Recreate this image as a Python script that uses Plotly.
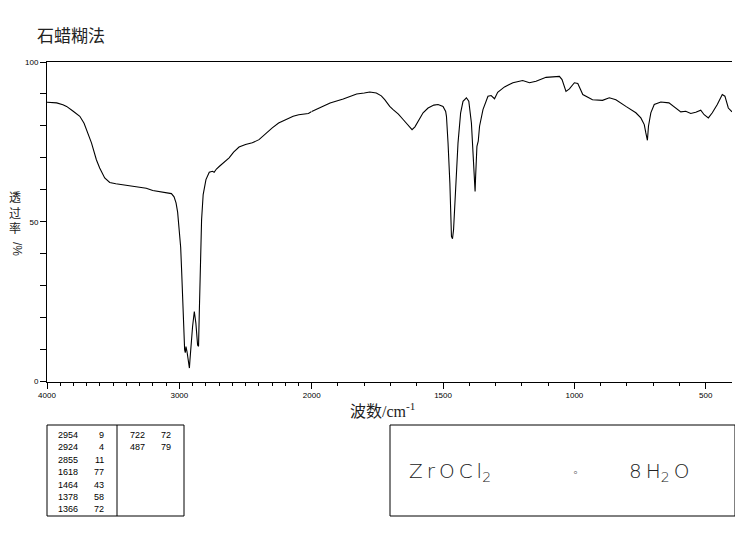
import plotly.graph_objects as go

# ---------------- data ----------------
wavenumber = [4000, 3950, 3927, 3880, 3852, 3802, 3752, 3720, 3702, 3664, 3627, 3602, 3564, 3526,
              3480, 3426, 3360, 3301, 3250, 3201, 3150, 3088, 3060, 3040, 3025, 3013, 3000, 2990,
              2983, 2975, 2967, 2960, 2955, 2950, 2942, 2930, 2924, 2920, 2912, 2900, 2887, 2875,
              2862, 2855, 2850, 2842, 2832, 2820, 2799, 2774, 2750, 2737, 2720, 2699, 2660, 2624,
              2590, 2549, 2500, 2449, 2398, 2350, 2298, 2250, 2188, 2140, 2098, 2050, 2025, 2000,
              1981, 1930, 1880, 1829, 1800, 1779, 1754, 1735, 1722, 1703, 1690, 1670, 1652, 1635,
              1618, 1607, 1590, 1576, 1557, 1535, 1519, 1500, 1490, 1487, 1481, 1474, 1468, 1464,
              1460, 1452, 1443, 1433, 1424, 1411, 1402, 1392, 1386, 1380, 1378, 1376, 1371, 1366,
              1361, 1348, 1329, 1317, 1304, 1292, 1266, 1234, 1197, 1171, 1146, 1108, 1083, 1057,
              1047, 1032, 1019, 1000, 987, 968, 931, 893, 867, 842, 804, 766, 747, 734, 728, 724,
              722, 718, 709, 696, 671, 640, 614, 595, 576, 557, 538, 519, 506, 490, 475, 456, 437,
              427, 414, 405, 400]
transmittance = [87.4, 87.3, 87.2, 86.6, 86.1, 84.6, 83.0, 80.8, 78.8, 74.7, 69.4, 66.8, 63.7, 62.3,
                 61.9, 61.6, 61.2, 60.9, 60.5, 59.8, 59.5, 59.2, 58.8, 57.8, 55.9, 53.0, 48.0, 42.0,
                 35.0, 24.6, 15.2, 9.9, 9.0, 10.9, 9.3, 4.6, 4.2, 6.7, 11.4, 17.2, 21.9, 18.2,
                 11.4, 11.0, 20.3, 35.0, 50.6, 58.5, 63.2, 65.5, 65.8, 65.5, 66.5, 67.3, 68.7, 70.0,
                 71.8, 73.4, 74.2, 74.7, 75.7, 77.5, 79.4, 80.9, 82.2, 83.0, 83.5, 83.7, 83.9, 84.5,
                 85.3, 87.2, 88.4, 90.0, 90.3, 90.6, 90.3, 89.4, 88.2, 86.1, 85.1, 83.7, 82.0, 80.5,
                 78.8, 79.7, 82.3, 84.1, 85.6, 86.5, 86.7, 86.1, 84.5, 83.0, 74.7, 62.1, 45.4, 44.7,
                 47.5, 59.0, 74.7, 84.1, 87.7, 88.8, 87.7, 80.9, 70.5, 60.0, 59.5, 64.2, 73.6, 75.2,
                 79.9, 85.1, 89.3, 89.5, 88.5, 90.5, 92.2, 93.5, 94.2, 93.5, 94.0, 95.2, 95.4, 95.5,
                 94.5, 90.8, 91.6, 93.5, 93.3, 89.8, 88.2, 88.0, 88.8, 88.2, 86.1, 84.1, 82.5, 80.4, 77.8, 75.7,
                 75.5, 79.9, 84.1, 86.7, 87.5, 87.2, 85.6, 84.4, 84.6, 83.9, 84.3, 84.9, 83.5, 82.5, 84.1, 86.7, 89.8,
                 89.3, 85.6, 84.6, 84.4]

peak_wn = [2954, 2924, 2855, 1618, 1464, 1378, 1366, 722, 487]
peak_t = [9, 4, 11, 77, 43, 58, 72, 72, 79]

x_labeled_hi = [4000, 3000, 2000]
x_half_hi = [3500, 2500]
x_labeled_lo = [1500, 1000, 500]
y_labeled = [0, 50, 100]
y_minor = [10, 20, 30, 40, 60, 70, 80, 90]

title_text = "石蜡糊法"
xlabel_text = "波数/cm<sup>-1</sup>"
ylabel_text = "透<br>过<br>率"
ylabel_unit = "/%"
TS = "\u2009"
formula_parts = [TS.join("ZrOCl") + "<sub>2</sub>", "∘", "8" + TS + "H<sub>2</sub>" + TS + "O"]

# ---------------- layout helpers ----------------
# the page body has an 8px margin, so the figure is placed at (8, 8) in the window
WIN_W, WIN_H, OFF = 743, 539, 8
W, H = WIN_W - OFF, WIN_H - 2 * OFF
def px(x):
    return (x - OFF) / W
def py(y):
    return 1 - (y - OFF) / H

L, SPLIT, R, T, B = 47, 311.7, 732, 62, 381.5
INK = "#000000"
CJK = "Noto Sans CJK SC"
TICKFONT = dict(family="Liberation Sans", size=8, color=INK)

hi_x = [w for w in wavenumber if w >= 2000]
hi_y = [t for w, t in zip(wavenumber, transmittance) if w >= 2000]
lo_x = [w for w in wavenumber if w <= 2000]
lo_y = [t for w, t in zip(wavenumber, transmittance) if w <= 2000]

fig = go.Figure()
fig.add_trace(go.Scatter(x=hi_x, y=hi_y, xaxis="x", yaxis="y", mode="lines",
                         line=dict(color=INK, width=1.1), showlegend=False, hoverinfo="skip"))
fig.add_trace(go.Scatter(x=lo_x, y=lo_y, xaxis="x2", yaxis="y", mode="lines",
                         line=dict(color=INK, width=1.1), showlegend=False, hoverinfo="skip"))

axis_common = dict(showgrid=False, zeroline=False, showline=True, linecolor=INK, linewidth=1,
                   ticks="outside", tickcolor=INK, tickwidth=1, tickfont=TICKFONT,
                   automargin=False)
minor_common = dict(ticks="outside", tickcolor=INK, tickwidth=1, showgrid=False)

fig.update_layout(
    template="none",
    width=W, height=H, autosize=False,
    margin=dict(l=0, r=0, t=0, b=0, pad=0),
    paper_bgcolor="white", plot_bgcolor="white",
    xaxis=dict(domain=[px(L), px(SPLIT)], range=[4000, 2000], anchor="y", mirror=True,
               tickmode="array", tickvals=x_labeled_hi, ticklen=6,
               minor=dict(tickmode="array", tickvals=list(range(2100, 4000, 100)), ticklen=3,
                          **minor_common),
               **axis_common),
    xaxis3=dict(domain=[px(L), px(SPLIT)], range=[4000, 2000], anchor="y", overlaying="x",
                showline=False, showgrid=False, zeroline=False, showticklabels=False,
                ticks="outside", tickcolor=INK, tickwidth=1, ticklen=6,
                tickmode="array", tickvals=x_half_hi, automargin=False),
    xaxis2=dict(domain=[px(SPLIT), px(R)], range=[2000, 400], anchor="y", mirror=True,
                tickmode="array", tickvals=x_labeled_lo, ticklen=6,
                minor=dict(tickmode="array", tickvals=list(range(500, 2000, 100)), ticklen=3,
                           **minor_common),
                **axis_common),
    yaxis=dict(domain=[py(B), py(T)], range=[0, 100], anchor="x",
               tickmode="array", tickvals=y_labeled, ticklen=6,
               minor=dict(tickmode="array", tickvals=y_minor, ticklen=6, **minor_common),
               **axis_common),
    yaxis2=dict(domain=[py(B), py(T)], range=[0, 100], anchor="x2", overlaying="y", side="right",
                showline=True, linecolor=INK, linewidth=1, showgrid=False, zeroline=False,
                ticks="", showticklabels=False, automargin=False),
)

ann = []
ann.append(dict(text=title_text, x=px(35), y=py(34), xref="paper", yref="paper",
                xanchor="left", yanchor="middle", showarrow=False,
                font=dict(family=CJK, size=17, color="#222222")))
ann.append(dict(text=xlabel_text, x=px(348), y=py(410), xref="paper", yref="paper",
                xanchor="left", yanchor="middle", showarrow=False,
                font=dict(family="Liberation Serif, " + CJK, size=16, color="#222222")))
ann.append(dict(text=ylabel_text, x=px(15), y=py(212), xref="paper", yref="paper",
                xanchor="center", yanchor="middle", showarrow=False,
                font=dict(family=CJK, size=12, color="#222222")))
ann.append(dict(text=ylabel_unit, x=px(17), y=py(249), xref="paper", yref="paper",
                xanchor="center", yanchor="middle", showarrow=False, textangle=90,
                font=dict(family="Liberation Sans", size=12, color="#222222")))

# peak table
shapes = []
TB_L, TB_R, TB_DIV, BOX_T, BOX_B = 47, 184, 117, 425, 516
shapes.append(dict(type="rect", xref="paper", yref="paper", x0=px(TB_L), x1=px(TB_R),
                   y0=py(BOX_B), y1=py(BOX_T), line=dict(color=INK, width=1)))
shapes.append(dict(type="line", xref="paper", yref="paper", x0=px(TB_DIV), x1=px(TB_DIV),
                   y0=py(BOX_B), y1=py(BOX_T), line=dict(color=INK, width=1)))
rows_per_col = 7
col_x = [(80, 106), (147, 173)]
for i, (w, t) in enumerate(zip(peak_wn, peak_t)):
    c, r = divmod(i, rows_per_col)
    yy = py(435 + r * 12.4)
    for val, xr in zip((w, t), col_x[c]):
        ann.append(dict(text=str(val), x=px(xr), y=yy, xref="paper", yref="paper",
                        xanchor="right", yanchor="middle", showarrow=False,
                        font=dict(family="Liberation Sans", size=9, color=INK)))

# formula box
FB_L, FB_R = 390, 735
shapes.append(dict(type="rect", xref="paper", yref="paper", x0=px(FB_L), x1=px(FB_R),
                   y0=py(BOX_B), y1=py(BOX_T), line=dict(color=INK, width=1)))
formula_x = [407, 575, 627]
formula_size = [20, 11, 20]
for txt, fx, fs in zip(formula_parts, formula_x, formula_size):
    ann.append(dict(text=txt, x=px(fx), y=py(472), xref="paper", yref="paper",
                    xanchor="left" if fs > 12 else "center", yanchor="middle", showarrow=False,
                    font=dict(family="DejaVu Sans", size=fs, color="#222222", weight=300)))

fig.update_layout(annotations=ann, shapes=shapes)
fig.write_html("out.html")
